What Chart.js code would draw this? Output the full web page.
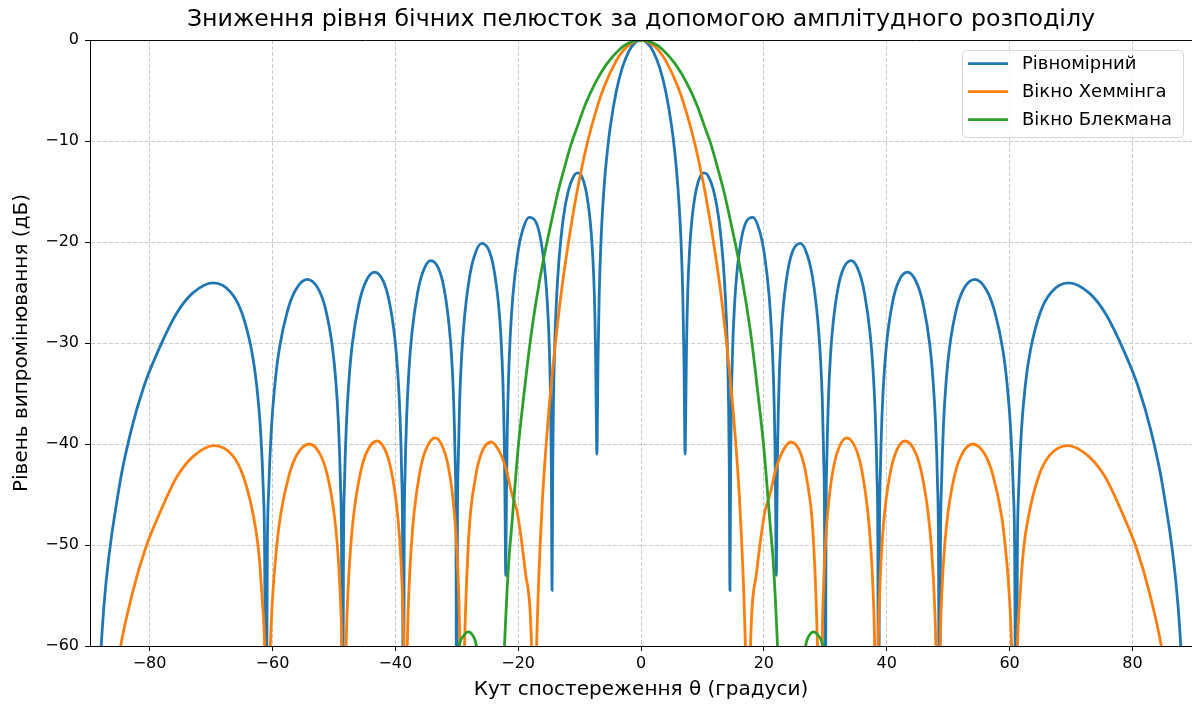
<!DOCTYPE html>
<html>
<head>
<meta charset="utf-8">
<script src="https://cdn.jsdelivr.net/npm/chart.js@4.4.1/dist/chart.umd.min.js"></script>
<style>
  html, body { margin: 0; padding: 0; background: #fff; }
  canvas { display: block; }
</style>
</head>
<body>
<canvas id="chart" width="1192" height="704"></canvas>
<script>
// angles in degrees, levels in dB
var uniformAngles = [-89.7, -87.44, -85.04, -82.98, -80.93, -78.70, -75.64, -72.99, -69.63, -66.74,
  -64.98, -63.37, -62.56, -61.95, -61.49, -61.27, -61.05, -60.83, -60.60, -60.17,
  -59.60, -58.91, -57.54, -56.26, -54.34, -52.56, -51.37, -50.25, -49.69, -49.25,
  -48.92, -48.75, -48.59, -48.43, -48.27, -47.95, -47.52, -47.00, -45.95, -44.94,
  -43.43, -41.98, -41.01, -40.08, -39.61, -39.24, -38.96, -38.82, -38.68, -38.55,
  -38.41, -38.13, -37.77, -37.32, -36.42, -35.55, -34.23, -32.95, -32.09, -31.25,
  -30.83, -30.50, -30.25, -30.12, -30.00, -29.88, -29.75, -29.51, -29.18, -28.77,
  -27.95, -27.15, -25.95, -24.76, -23.97, -23.19, -22.80, -22.49, -22.26, -22.14,
  -22.02, -21.91, -21.79, -21.56, -21.25, -20.87, -20.11, -19.35, -18.21, -17.09,
  -16.34, -15.59, -15.22, -14.92, -14.70, -14.59, -14.48, -14.37, -14.26, -14.04,
  -13.74, -13.37, -12.64, -11.90, -10.81, -10.23, -9.72, -8.99, -8.27, -7.90,
  -7.61, -7.40, -7.29, -7.18, -7.0, -6.8, -6.5, -6, -5.5, -5,
  -4, -3, -2, -1,
  0, 1, 2, 3, 4, 5, 5.5, 6, 6.5, 6.8,
  7.0, 7.18, 7.29, 7.40, 7.61, 7.90, 8.27, 8.99, 9.72, 10.23,
  10.81, 11.90, 12.64, 13.37, 13.74, 14.04, 14.26, 14.37, 14.48, 14.59,
  14.70, 14.92, 15.22, 15.59, 16.34, 17.09, 18.21, 19.35, 20.11, 20.87,
  21.25, 21.56, 21.79, 21.91, 22.02, 22.14, 22.26, 22.49, 22.80, 23.19,
  23.97, 24.76, 25.95, 27.15, 27.95, 28.77, 29.18, 29.51, 29.75, 29.88,
  30.00, 30.12, 30.25, 30.50, 30.83, 31.25, 32.09, 32.95, 34.23, 35.55,
  36.42, 37.32, 37.77, 38.13, 38.41, 38.55, 38.68, 38.82, 38.96, 39.24,
  39.61, 40.08, 41.01, 41.98, 43.43, 44.94, 45.95, 47.00, 47.52, 47.95,
  48.27, 48.43, 48.59, 48.75, 48.92, 49.25, 49.69, 50.25, 51.37, 52.56,
  54.34, 56.26, 57.54, 58.91, 59.60, 60.17, 60.60, 60.83, 61.05, 61.27,
  61.49, 61.95, 62.56, 63.37, 64.98, 66.74, 69.63, 72.99, 75.64, 78.70,
  80.93, 82.98, 85.04, 87.44, 89.7];
var uniformLevels = [-80, -56.1, -44.6, -38.6, -34.3, -30.9, -27.1, -25.06, -24.04, -25.0,
  -27.0, -30.8, -34.2, -38.5, -44.5, -50.5, -75, -50.5, -44.4, -38.45,
  -34.1, -30.7, -26.8, -24.77, -23.7, -24.62, -26.6, -30.35, -33.7, -38.0,
  -44.0, -49.95, -75, -49.9, -43.9, -37.9, -33.5, -30.1, -26.2, -24.12,
  -22.99, -23.85, -25.8, -29.5, -32.8, -37.1, -43.0, -49.0, -75, -49.0,
  -43.0, -37.0, -32.6, -29.2, -25.2, -23.05, -21.85, -22.63, -24.5, -28.2,
  -31.4, -35.7, -41.7, -47.6, -75, -47.6, -41.6, -35.5, -31.1, -27.7,
  -23.6, -21.43, -20.13, -20.8, -22.6, -26.2, -29.4, -33.7, -39.6, -45.5,
  -53.0, -45.5, -39.4, -33.4, -28.9, -25.4, -21.3, -19.0, -17.55, -18.04,
  -19.7, -23.2, -26.3, -30.5, -36.4, -42.4, -54.5, -42.2, -36.1, -30.0,
  -25.5, -21.95, -17.6, -15.11, -13.34, -13.15, -13.41, -14.8, -17.9, -20.9,
  -24.9, -30.7, -36.5, -41.0, -31.8, -25.1, -19.7, -14.5, -11.1, -8.58,
  -5.01, -2.66, -1.14, -0.28,
  0, -0.28, -1.14, -2.66, -5.01, -8.58, -11.1, -14.5, -19.7, -25.1,
  -31.8, -41.0, -36.5, -30.7, -24.9, -20.9, -17.9, -14.8, -13.41, -13.15,
  -13.34, -15.11, -17.6, -21.95, -25.5, -30.0, -36.1, -42.2, -54.5, -42.4,
  -36.4, -30.5, -26.3, -23.2, -19.7, -18.04, -17.55, -19.0, -21.3, -25.4,
  -28.9, -33.4, -39.4, -45.5, -53.0, -45.5, -39.6, -33.7, -29.4, -26.2,
  -22.6, -20.8, -20.13, -21.43, -23.6, -27.7, -31.1, -35.5, -41.6, -47.6,
  -75, -47.6, -41.7, -35.7, -31.4, -28.2, -24.5, -22.63, -21.85, -23.05,
  -25.2, -29.2, -32.6, -37.0, -43.0, -49.0, -75, -49.0, -43.0, -37.1,
  -32.8, -29.5, -25.8, -23.85, -22.99, -24.12, -26.2, -30.1, -33.5, -37.9,
  -43.9, -49.9, -75, -49.95, -44.0, -38.0, -33.7, -30.35, -26.6, -24.62,
  -23.7, -24.77, -26.8, -30.7, -34.1, -38.45, -44.4, -50.5, -75, -50.5,
  -44.5, -38.5, -34.2, -30.8, -27.0, -25.0, -24.04, -25.06, -27.1, -30.9,
  -34.3, -38.6, -44.6, -56.1, -80];

var hammingAngles = [-89.7, -87.3, -84.9, -82.78, -80.7, -78.5, -75.5, -72.79, -69.5, -66.54,
  -64.8, -63.17, -62.3, -61.75, -61.25, -60.8, -60.36, -59.93, -59.35, -58.67,
  -57.30, -56.02, -54.0, -52.32, -51.13, -50.01, -49.44, -49.01, -48.68, -48.35,
  -48.02, -47.70, -47.27, -46.74, -45.69, -44.67, -43.0, -41.68, -40.70, -39.76,
  -39.28, -38.91, -38.63, -38.35, -38.06, -37.78, -37.39, -36.92, -35.98, -35.06,
  -33.5, -32.34, -31.44, -30.56, -30.12, -29.77, -29.51, -29.25, -28.7, -28.0,
  -27.0, -26.0, -24.4, -23.0, -22.0, -21.0, -20.2, -19.6, -18.8, -18.0,
  -17.7, -17.4, -17.1, -16.8, -16.4, -16.0, -15.0, -14.0, -13.0, -12.1,
  -11.0, -10.0, -8.7, -7.3, -6, -4, -3, -2, -1,
  0, 1, 2, 3, 4, 6, 7.3, 8.7, 10.0, 11.0,
  12.1, 13.0, 14.0, 15.0, 16.0, 16.4, 16.8, 17.1, 17.4, 17.7,
  18.0, 18.8, 19.6, 20.2, 21.0, 22.0, 23.0, 24.4, 26.0, 27.0,
  28.0, 28.7, 29.25, 29.51, 29.77, 30.12, 30.56, 31.44, 32.34, 33.5,
  35.06, 35.98, 36.92, 37.39, 37.78, 38.06, 38.35, 38.63, 38.91, 39.28,
  39.76, 40.70, 41.68, 43.0, 44.67, 45.69, 46.74, 47.27, 47.70, 48.02,
  48.35, 48.68, 49.01, 49.44, 50.01, 51.13, 52.32, 54.0, 56.02, 57.30,
  58.67, 59.35, 59.93, 60.36, 60.8, 61.25, 61.75, 62.3, 63.17, 64.8,
  66.54, 69.5, 72.79, 75.5, 78.5, 80.7, 82.78, 84.9, 87.3, 89.7];
var hammingLevels = [-90, -72, -60.7, -54.74, -50.4, -47.05, -43.2, -41.17, -40.15, -41.1,
  -43.1, -46.9, -50.3, -54.6, -60.5, -76, -60.7, -54.75, -50.4, -47.0,
  -43.1, -41.07, -40.0, -40.92, -42.9, -46.65, -50.0, -54.3, -60.25, -76,
  -60.6, -54.6, -50.2, -46.85, -42.9, -40.83, -39.7, -40.56, -42.5, -46.2,
  -49.5, -53.8, -59.75, -76, -60.5, -54.5, -50.1, -46.7, -42.7, -40.6,
  -39.4, -40.2, -42.0, -45.7, -49.0, -53.3, -59.2, -76, -59.3, -48.8,
  -43.5, -40.95, -39.8, -40.8, -42.4, -45.0, -46.6, -48.9, -52.8, -57.1,
  -63, -76, -63, -56.0, -49.8, -45.0, -36.7, -30.4, -25.1, -21.2,
  -17.0, -13.7, -10.1, -6.96, -4.62, -2.02, -1.12, -0.5, -0.13,
  0, -0.13, -0.5, -1.12, -2.02, -4.62, -6.96, -10.1, -13.7, -17.0,
  -21.2, -25.1, -30.4, -36.7, -45.0, -49.8, -56.0, -63, -76, -63,
  -57.1, -52.8, -48.9, -46.6, -45.0, -42.4, -40.8, -39.8, -40.95, -43.5,
  -48.8, -59.3, -76, -59.2, -53.3, -49.0, -45.7, -42.0, -40.2, -39.4,
  -40.6, -42.7, -46.7, -50.1, -54.5, -60.5, -76, -59.75, -53.8, -49.5,
  -46.2, -42.5, -40.56, -39.7, -40.83, -42.9, -46.85, -50.2, -54.6, -60.6,
  -76, -60.25, -54.3, -50.0, -46.65, -42.9, -40.92, -40.0, -41.07, -43.1,
  -47.0, -50.4, -54.75, -60.7, -76, -60.5, -54.6, -50.3, -46.9, -43.1,
  -41.1, -40.15, -41.17, -43.2, -47.05, -50.4, -54.74, -60.7, -72, -90];

var blackmanAngles = [-89.7, -60, -40, -30.8, -30.1, -29.6, -28.9, -28.1, -27.4, -26.8,
  -26.3, -25.5, -23.0, -22.5, -22.0, -21.5, -21.0, -20.0, -19.0, -18.0,
  -17.0, -15.9, -14.7, -13.5, -12.4, -11.4, -10.2, -9.1, -7.5, -5.6, -3.5, -2,
  0, 2, 3.5, 5.6, 7.5, 9.1, 10.2, 11.4, 12.4, 13.5,
  14.7, 15.9, 17.0, 18.0, 19.0, 20.0, 21.0, 21.5, 22.0, 22.5,
  23.0, 25.5, 26.3, 26.8, 27.4, 28.1, 28.9, 29.6, 30.1, 30.8,
  40, 60, 89.7];
var blackmanLevels = [-90, -85, -80, -75, -63, -60.0, -59.0, -58.6, -58.95, -60.0,
  -63, -75, -80, -64.9, -57.0, -51.4, -47.8, -40.4, -34.8, -29.7,
  -25.6, -21.8, -18.3, -15.0, -12.5, -10.35, -8.3, -6.43, -4.31, -2.38, -0.93, -0.3,
  0, -0.3, -0.93, -2.38, -4.31, -6.43, -8.3, -10.35, -12.5, -15.0,
  -18.3, -21.8, -25.6, -29.7, -34.8, -40.4, -47.8, -51.4, -57.0, -64.9,
  -80, -75, -63, -60.0, -58.95, -58.6, -59.0, -60.0, -63, -75,
  -80, -85, -90];

var xTickValues = [-80, -60, -40, -20, 0, 20, 40, 60, 80];
var yTickValues = [0, -10, -20, -30, -40, -50, -60];
var seriesNames = ['Рівномірний', 'Вікно Хеммінга', 'Вікно Блекмана'];
var seriesColors = ['#1f77b4', '#ff7f0e', '#2ca02c'];

function toPoints(xs, ys) {
  return xs.map(function (x, i) { return { x: x, y: ys[i] }; });
}
function minusSign(v) {
  return String(v).replace('-', '\u2212');
}

Chart.defaults.font.family = '"DejaVu Sans", sans-serif';
Chart.defaults.color = '#000';

// matplotlib-like top spine and legend box inside the axes
var frameAndLegend = {
  id: 'frameAndLegend',
  afterDraw: function (chart) {
    var ctx = chart.ctx;
    var area = chart.chartArea;
    ctx.save();
    ctx.strokeStyle = '#000';
    ctx.lineWidth = 1;
    ctx.beginPath();
    ctx.moveTo(area.left, area.top + 0.5);
    ctx.lineTo(area.right, area.top + 0.5);
    ctx.stroke();

    var bx = area.right - 230, by = area.top + 10, bw = 221, bh = 87;
    ctx.beginPath();
    ctx.roundRect(bx + 0.5, by + 0.5, bw, bh, 4);
    ctx.fillStyle = 'rgba(255,255,255,0.8)';
    ctx.fill();
    ctx.strokeStyle = '#d6d6d6';
    ctx.stroke();
    ctx.font = '18px "DejaVu Sans"';
    ctx.textBaseline = 'middle';
    chart.data.datasets.forEach(function (ds, i) {
      var ly = by + 13.5 + i * 28;
      ctx.beginPath();
      ctx.moveTo(bx + 6, ly);
      ctx.lineTo(bx + 46, ly);
      ctx.strokeStyle = ds.borderColor;
      ctx.lineWidth = 2.8;
      ctx.stroke();
      ctx.fillStyle = '#000';
      ctx.fillText(ds.label, bx + 60, ly + 1);
    });
    ctx.restore();
  }
};

function makeSet(i, xs, ys, order) {
  return {
    label: seriesNames[i],
    data: toPoints(xs, ys),
    borderColor: seriesColors[i],
    backgroundColor: seriesColors[i],
    borderWidth: 2.8,
    pointRadius: 0,
    fill: false,
    cubicInterpolationMode: 'monotone',
    clip: 0,
    order: order
  };
}

new Chart(document.getElementById('chart'), {
  type: 'line',
  data: {
    datasets: [
      makeSet(0, uniformAngles, uniformLevels, 2),
      makeSet(1, hammingAngles, hammingLevels, 1),
      makeSet(2, blackmanAngles, blackmanLevels, 0)
    ]
  },
  options: {
    responsive: false,
    animation: false,
    devicePixelRatio: 1,
    layout: { padding: 0 },
    plugins: {
      legend: { display: false },
      tooltip: { enabled: false },
      title: {
        display: true,
        fullSize: false,
        text: 'Зниження рівня бічних пелюсток за допомогою амплітудного розподілу',
        font: { size: 23.7, weight: 'normal' },
        color: '#000',
        padding: { top: 5.5, bottom: 6.1 }
      }
    },
    scales: {
      x: {
        type: 'linear',
        min: -89.7,
        max: 89.7,
        afterBuildTicks: function (s) { s.ticks = xTickValues.map(function (v) { return { value: v }; }); },
        afterFit: function (s) { s.height = 58; },
        ticks: { autoSkip: false, maxRotation: 0, padding: 3, font: { size: 16 }, callback: minusSign },
        grid: { color: '#cccccc', lineWidth: 1, tickColor: '#000', tickLength: 5, tickWidth: 1 },
        border: { color: '#000', width: 1, dash: [4, 2] },
        title: { display: true, text: 'Кут спостереження θ (градуси)', font: { size: 20 }, padding: { top: 0, bottom: 2 } }
      },
      y: {
        min: -60,
        max: 0,
        afterBuildTicks: function (s) { s.ticks = yTickValues.map(function (v) { return { value: v }; }); },
        afterFit: function (s) { s.width = 90; },
        ticks: { padding: 6, font: { size: 16 }, callback: minusSign },
        grid: { color: '#cccccc', lineWidth: 1, tickColor: '#000', tickLength: 5, tickWidth: 1 },
        border: { color: '#000', width: 1, dash: [4, 2] },
        title: { display: true, text: 'Рівень випромінювання (дБ)', font: { size: 20 }, padding: { top: 10, bottom: 0 } }
      }
    }
  },
  plugins: [frameAndLegend]
});
</script>
</body>
</html>
